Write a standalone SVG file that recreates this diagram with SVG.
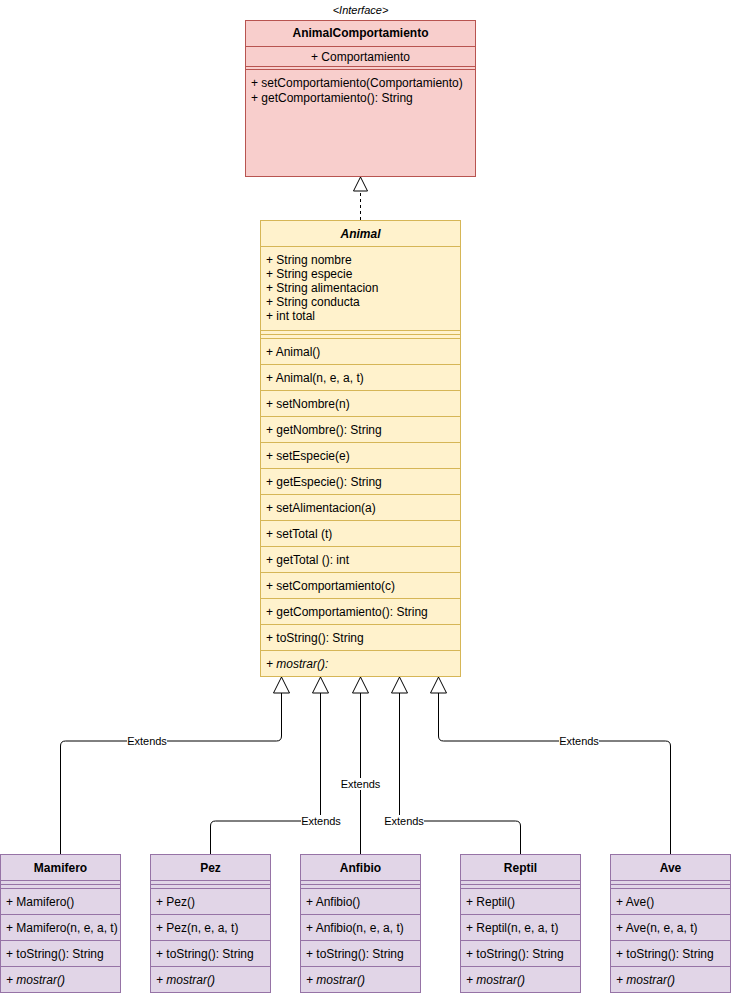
<svg xmlns="http://www.w3.org/2000/svg" width="731" height="996" viewBox="0 0 731 996">
<style>
text{font-family:"Liberation Sans",Arial,sans-serif;font-size:12px;fill:#000}
.b{font-weight:bold}
.c{text-anchor:middle}
.i{font-style:italic}
.lbl{font-size:11px;text-anchor:middle}
.iface rect,.iface line{fill:#f8cecc;stroke:#b85450}
.anim rect,.anim line{fill:#fff2cc;stroke:#d6b656}
.sub rect,.sub line{fill:#e1d5e7;stroke:#9673a6}
.edge{fill:none;stroke:#000;stroke-width:1}
.lblbg{fill:#fff}
</style>
<defs>
<marker id="inh" markerUnits="userSpaceOnUse" viewBox="-1 -1 18 18" refX="16" refY="8" markerWidth="18" markerHeight="18" orient="auto">
<path d="M0,0 L16,8 L0,16 Z" fill="#fff" stroke="#000" stroke-width="1"/>
</marker>
<marker id="real" markerUnits="userSpaceOnUse" viewBox="-1 -1 16 16" refX="14" refY="7" markerWidth="16" markerHeight="16" orient="auto">
<path d="M0,0 L14,7 L0,14 Z" fill="#fff" stroke="#000" stroke-width="1"/>
</marker>
</defs>

<g id="AnimalComportamiento" class="iface">
<text x="360.5" y="14" class="c i" style="font-size:11px">&lt;Interface&gt;</text>
<rect x="245.5" y="20.5" width="230" height="156"/>
<line x1="245.5" y1="46.5" x2="475.5" y2="46.5"/>
<line x1="245.5" y1="66.5" x2="475.5" y2="66.5"/>
<line x1="245.5" y1="69.5" x2="475.5" y2="69.5"/>
<text x="360.5" y="37" class="b c">AnimalComportamiento</text>
<text x="360.5" y="61" class="c">+ Comportamiento</text>
<text x="251" y="87">+ setComportamiento(Comportamiento)</text>
<text x="251" y="102">+ getComportamiento(): String</text>
</g>

<g id="Animal" class="anim">
<rect x="260.5" y="220.5" width="200" height="456"/>
<line x1="260.5" y1="246.5" x2="460.5" y2="246.5"/>
<line x1="260.5" y1="330.5" x2="460.5" y2="330.5"/>
<line x1="260.5" y1="334.5" x2="460.5" y2="334.5"/>
<line x1="260.5" y1="338.5" x2="460.5" y2="338.5"/>
<line x1="260.5" y1="364.5" x2="460.5" y2="364.5"/>
<line x1="260.5" y1="390.5" x2="460.5" y2="390.5"/>
<line x1="260.5" y1="416.5" x2="460.5" y2="416.5"/>
<line x1="260.5" y1="442.5" x2="460.5" y2="442.5"/>
<line x1="260.5" y1="468.5" x2="460.5" y2="468.5"/>
<line x1="260.5" y1="494.5" x2="460.5" y2="494.5"/>
<line x1="260.5" y1="520.5" x2="460.5" y2="520.5"/>
<line x1="260.5" y1="546.5" x2="460.5" y2="546.5"/>
<line x1="260.5" y1="572.5" x2="460.5" y2="572.5"/>
<line x1="260.5" y1="598.5" x2="460.5" y2="598.5"/>
<line x1="260.5" y1="624.5" x2="460.5" y2="624.5"/>
<line x1="260.5" y1="650.5" x2="460.5" y2="650.5"/>
<text x="360.5" y="238" class="b c i">Animal</text>
<text x="266" y="264">+ String nombre</text>
<text x="266" y="278">+ String especie</text>
<text x="266" y="292">+ String alimentacion</text>
<text x="266" y="306">+ String conducta</text>
<text x="266" y="320">+ int total</text>
<text x="266" y="356">+ Animal()</text>
<text x="266" y="382">+ Animal(n, e, a, t)</text>
<text x="266" y="408">+ setNombre(n)</text>
<text x="266" y="434">+ getNombre(): String</text>
<text x="266" y="460">+ setEspecie(e)</text>
<text x="266" y="486">+ getEspecie(): String</text>
<text x="266" y="512">+ setAlimentacion(a)</text>
<text x="266" y="538">+ setTotal (t)</text>
<text x="266" y="564">+ getTotal (): int</text>
<text x="266" y="590">+ setComportamiento(c)</text>
<text x="266" y="616">+ getComportamiento(): String</text>
<text x="266" y="642">+ toString(): String</text>
<text x="266" y="668" class="i">+ mostrar():</text>
</g>

<g id="Mamifero" class="sub">
<rect x="0.5" y="854.5" width="120" height="138"/>
<line x1="0.5" y1="880.5" x2="120.5" y2="880.5"/>
<line x1="0.5" y1="884.5" x2="120.5" y2="884.5"/>
<line x1="0.5" y1="888.5" x2="120.5" y2="888.5"/>
<line x1="0.5" y1="914.5" x2="120.5" y2="914.5"/>
<line x1="0.5" y1="940.5" x2="120.5" y2="940.5"/>
<line x1="0.5" y1="966.5" x2="120.5" y2="966.5"/>
<text x="60.5" y="872" class="b c">Mamifero</text>
<text x="6" y="906">+ Mamifero()</text>
<text x="6" y="932">+ Mamifero(n, e, a, t)</text>
<text x="6" y="958">+ toString(): String</text>
<text x="6" y="984" class="i">+ mostrar()</text>
</g>

<g id="Pez" class="sub">
<rect x="150.5" y="854.5" width="120" height="138"/>
<line x1="150.5" y1="880.5" x2="270.5" y2="880.5"/>
<line x1="150.5" y1="884.5" x2="270.5" y2="884.5"/>
<line x1="150.5" y1="888.5" x2="270.5" y2="888.5"/>
<line x1="150.5" y1="914.5" x2="270.5" y2="914.5"/>
<line x1="150.5" y1="940.5" x2="270.5" y2="940.5"/>
<line x1="150.5" y1="966.5" x2="270.5" y2="966.5"/>
<text x="210.5" y="872" class="b c">Pez</text>
<text x="156" y="906">+ Pez()</text>
<text x="156" y="932">+ Pez(n, e, a, t)</text>
<text x="156" y="958">+ toString(): String</text>
<text x="156" y="984" class="i">+ mostrar()</text>
</g>

<g id="Anfibio" class="sub">
<rect x="300.5" y="854.5" width="120" height="138"/>
<line x1="300.5" y1="880.5" x2="420.5" y2="880.5"/>
<line x1="300.5" y1="884.5" x2="420.5" y2="884.5"/>
<line x1="300.5" y1="888.5" x2="420.5" y2="888.5"/>
<line x1="300.5" y1="914.5" x2="420.5" y2="914.5"/>
<line x1="300.5" y1="940.5" x2="420.5" y2="940.5"/>
<line x1="300.5" y1="966.5" x2="420.5" y2="966.5"/>
<text x="360.5" y="872" class="b c">Anfibio</text>
<text x="306" y="906">+ Anfibio()</text>
<text x="306" y="932">+ Anfibio(n, e, a, t)</text>
<text x="306" y="958">+ toString(): String</text>
<text x="306" y="984" class="i">+ mostrar()</text>
</g>

<g id="Reptil" class="sub">
<rect x="460.5" y="854.5" width="120" height="138"/>
<line x1="460.5" y1="880.5" x2="580.5" y2="880.5"/>
<line x1="460.5" y1="884.5" x2="580.5" y2="884.5"/>
<line x1="460.5" y1="888.5" x2="580.5" y2="888.5"/>
<line x1="460.5" y1="914.5" x2="580.5" y2="914.5"/>
<line x1="460.5" y1="940.5" x2="580.5" y2="940.5"/>
<line x1="460.5" y1="966.5" x2="580.5" y2="966.5"/>
<text x="520.5" y="872" class="b c">Reptil</text>
<text x="466" y="906">+ Reptil()</text>
<text x="466" y="932">+ Reptil(n, e, a, t)</text>
<text x="466" y="958">+ toString(): String</text>
<text x="466" y="984" class="i">+ mostrar()</text>
</g>

<g id="Ave" class="sub">
<rect x="610.5" y="854.5" width="120" height="138"/>
<line x1="610.5" y1="880.5" x2="730.5" y2="880.5"/>
<line x1="610.5" y1="884.5" x2="730.5" y2="884.5"/>
<line x1="610.5" y1="888.5" x2="730.5" y2="888.5"/>
<line x1="610.5" y1="914.5" x2="730.5" y2="914.5"/>
<line x1="610.5" y1="940.5" x2="730.5" y2="940.5"/>
<line x1="610.5" y1="966.5" x2="730.5" y2="966.5"/>
<text x="670.5" y="872" class="b c">Ave</text>
<text x="616" y="906">+ Ave()</text>
<text x="616" y="932">+ Ave(n, e, a, t)</text>
<text x="616" y="958">+ toString(): String</text>
<text x="616" y="984" class="i">+ mostrar()</text>
</g>

<g id="connectors">
<path class="edge" d="M360.5,220 V177" stroke-dasharray="3 3" marker-end="url(#real)"/>
<path class="edge" d="M60.5,854 V746 Q60.5,741 65.5,741 H276.5 Q281.5,741 281.5,736 V677" marker-end="url(#inh)"/>
<path class="edge" d="M210.5,854 V826 Q210.5,821 215.5,821 H320.5 V677" marker-end="url(#inh)"/>
<path class="edge" d="M360.5,854 V677" marker-end="url(#inh)"/>
<path class="edge" d="M520.5,854 V826 Q520.5,821 515.5,821 H399.5 V677" marker-end="url(#inh)"/>
<path class="edge" d="M670.5,854 V746 Q670.5,741 665.5,741 H443.5 Q438.5,741 438.5,736 V677" marker-end="url(#inh)"/>
<rect class="lblbg" x="127" y="735" width="40" height="12"/>
<text class="lbl" x="147" y="745">Extends</text>
<rect class="lblbg" x="301" y="815" width="40" height="12"/>
<text class="lbl" x="321" y="825">Extends</text>
<rect class="lblbg" x="340" y="778" width="40" height="12"/>
<text class="lbl" x="360.5" y="788">Extends</text>
<rect class="lblbg" x="384" y="815" width="40" height="12"/>
<text class="lbl" x="404" y="825">Extends</text>
<rect class="lblbg" x="559" y="735" width="40" height="12"/>
<text class="lbl" x="579" y="745">Extends</text>
</g>
</svg>
